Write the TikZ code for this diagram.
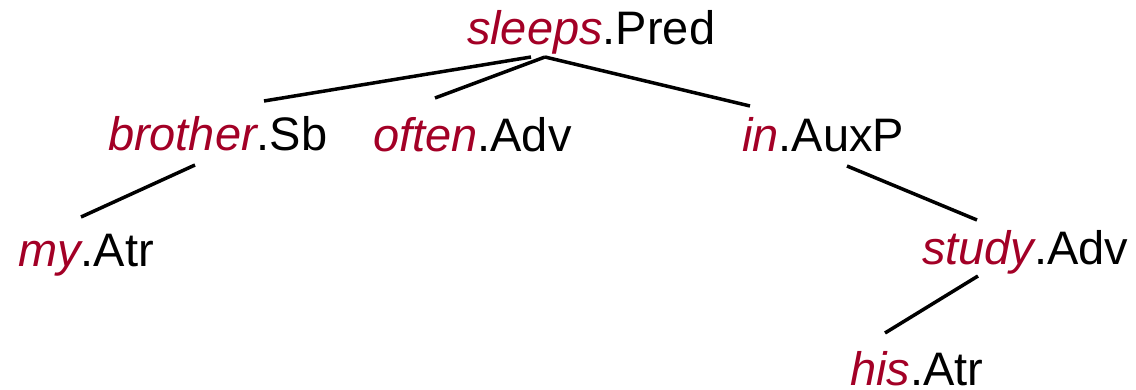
\documentclass[tikz,border=0pt]{standalone}
\usepackage{fontspec}
\setmainfont{Liberation Sans}
\definecolor{lemma}{RGB}{163,0,38}
\tikzset{
  word/.style={anchor=base west, inner sep=0pt, outer sep=0pt, font=\fontsize{47}{56}\selectfont},
  edge/.style={line width=3.5pt, black}
}
\newcommand{\wlab}[2]{{\color{lemma}\itshape #1}.#2}
\begin{document}
\begin{tikzpicture}[x=1pt,y=-1pt]
\useasboundingbox (0,0) rectangle (1136,390);
\node[word] (sleeps) at (467,45) {\wlab{sleeps}{Pred}};
\node[word] (brother) at (108,151) {\wlab{brother}{Sb}};
\node[word] (often) at (373,152) {\wlab{often}{Adv}};
\node[word] (in) at (742,152) {\wlab{in}{AuxP}};
\node[word] (my) at (18,267) {\wlab{my}{Atr}};
\node[word] (study) at (922,265) {\wlab{study}{Adv}};
\node[word] (his) at (850,385) {\wlab{his}{Atr}};
% connector end points
\coordinate (sleepsA) at (531,57);
\coordinate (sleepsB) at (545,57);
\coordinate (brotherT) at (264,101);
\coordinate (brotherB) at (195,165);
\coordinate (oftenT) at (435,98);
\coordinate (inT) at (750,106);
\coordinate (inB) at (847,166);
\coordinate (myT) at (81,217);
\coordinate (studyT) at (977,220);
\coordinate (studyB) at (978,276);
\coordinate (hisT) at (885,333);
\draw[edge] (sleepsA) -- (brotherT);
\draw[edge] (sleepsB) -- (oftenT);
\draw[edge] (sleepsB) -- (inT);
\draw[edge] (brotherB) -- (myT);
\draw[edge] (inB) -- (studyT);
\draw[edge] (studyB) -- (hisT);
\end{tikzpicture}
\end{document}
